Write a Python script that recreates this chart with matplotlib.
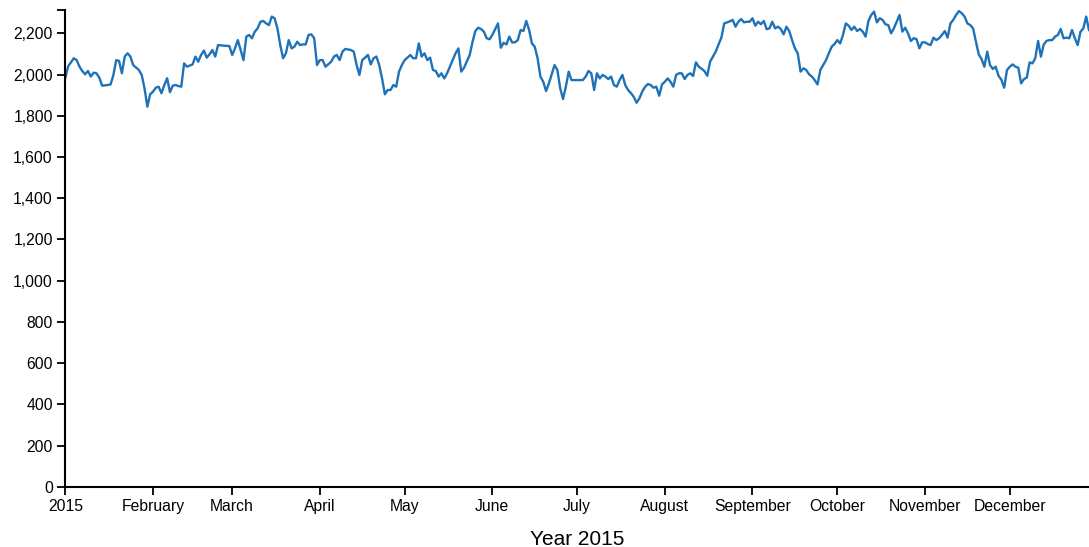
import matplotlib.pyplot as plt
import matplotlib.ticker as mticker
import pandas as pd

# day of year (0 = 1 Jan 2015) and value
days = [0, 1, 3, 4, 5, 6, 7, 8, 9, 10, 11, 12, 13, 15, 16, 17, 18, 19, 20,
        21, 22, 23, 24, 26, 27, 28, 29, 30, 31, 32, 33, 34, 35, 36, 37, 38,
        39, 40, 41, 42, 43, 45, 46, 47, 48, 49, 50, 51, 52, 53, 54, 56, 58,
        59, 60, 61, 62, 63, 64, 65, 66, 67, 68, 69, 70, 71, 72, 73, 74, 75,
        76, 77, 78, 79, 80, 81, 82, 83, 84, 85, 86, 87, 88, 89, 90, 91, 92,
        94, 95, 96, 97, 98, 99, 101, 102, 103, 104, 105, 106, 107, 108, 109,
        110, 111, 112, 113, 114, 115, 116, 117, 118, 119, 120, 121, 122, 123,
        124, 125, 126, 127, 128, 129, 130, 131, 132, 133, 134, 135, 136, 137,
        138, 139, 140, 141, 143, 144, 145, 146, 147, 148, 149, 150, 151, 153,
        154, 155, 156, 157, 158, 159, 160, 161, 162, 163, 164, 165, 166, 167,
        168, 169, 170, 171, 173, 174, 175, 176, 177, 178, 179, 180, 181, 182,
        183, 184, 185, 186, 187, 188, 189, 190, 191, 192, 193, 194, 195, 196,
        197, 198, 199, 200, 201, 202, 203, 204, 205, 206, 207, 208, 209, 210,
        211, 212, 213, 214, 215, 216, 217, 218, 219, 220, 221, 222, 223, 224,
        225, 226, 227, 228, 229, 230, 231, 232, 233, 234, 235, 236, 237, 238,
        239, 240, 241, 242, 243, 244, 245, 246, 247, 248, 249, 250, 251, 252,
        253, 254, 255, 256, 257, 258, 259, 260, 261, 262, 263, 264, 265, 266,
        267, 268, 269, 270, 271, 272, 273, 274, 275, 276, 277, 278, 279, 280,
        281, 282, 283, 284, 285, 286, 287, 288, 289, 290, 291, 292, 293, 294,
        295, 296, 297, 298, 299, 300, 301, 302, 303, 304, 305, 306, 307, 308,
        309, 310, 311, 312, 313, 314, 315, 316, 317, 318, 319, 320, 321, 322,
        323, 324, 325, 326, 327, 328, 329, 330, 331, 332, 333, 334, 335, 336,
        337, 338, 339, 340, 341, 342, 343, 344, 345, 346, 347, 348, 349, 350,
        351, 352, 353, 354, 355, 356, 357, 358, 359, 360, 361, 362]
values = [1983, 2040, 2079, 2070, 2038, 2017, 2001, 2017, 1990, 2009, 2006,
          1985, 1946, 1949, 1952, 1998, 2070, 2066, 2006, 2087, 2103, 2087,
          2046, 2022, 1998, 1933, 1844, 1904, 1917, 1936, 1941, 1909, 1949,
          1982, 1914, 1946, 1949, 1944, 1941, 2054, 2038, 2049, 2087, 2062,
          2095, 2116, 2082, 2098, 2119, 2087, 2143, 2140, 2138, 2095, 2127,
          2167, 2119, 2070, 2184, 2192, 2176, 2208, 2224, 2256, 2260, 2248,
          2240, 2281, 2273, 2224, 2143, 2079, 2103, 2167, 2127, 2135, 2159,
          2143, 2146, 2146, 2192, 2195, 2176, 2046, 2070, 2070, 2038, 2062,
          2087, 2095, 2070, 2111, 2124, 2119, 2111, 2046, 1998, 2070, 2082,
          2095, 2049, 2079, 2087, 2046, 1981, 1904, 1925, 1925, 1949, 1941,
          2014, 2046, 2070, 2082, 2095, 2079, 2079, 2151, 2087, 2103, 2070,
          2082, 2022, 2017, 1990, 2006, 1981, 2006, 2038, 2070, 2103, 2127,
          2014, 2033, 2095, 2159, 2211, 2227, 2221, 2208, 2176, 2171, 2192,
          2248, 2130, 2154, 2146, 2184, 2156, 2156, 2167, 2216, 2211, 2260,
          2216, 2151, 2135, 2079, 1990, 1965, 1920, 1957, 2046, 2022, 1933,
          1881, 1941, 2014, 1973, 1973, 1973, 1973, 1973, 1990, 2017, 2006,
          1925, 2006, 1981, 1998, 1990, 1978, 1990, 1949, 1941, 1973, 1998,
          1949, 1925, 1910, 1892, 1863, 1884, 1917, 1940, 1954, 1949, 1936,
          1941, 1897, 1952, 1965, 1981, 1965, 1941, 1998, 2006, 2006, 1978,
          1998, 2006, 1993, 2059, 2038, 2028, 2017, 1994, 2062, 2087, 2111,
          2146, 2179, 2248, 2253, 2258, 2265, 2232, 2256, 2269, 2253, 2256,
          2256, 2273, 2237, 2256, 2244, 2260, 2220, 2224, 2256, 2224, 2232,
          2221, 2195, 2232, 2211, 2167, 2127, 2103, 2014, 2030, 2022, 2001,
          1990, 1973, 1952, 2022, 2046, 2070, 2103, 2135, 2148, 2167, 2151,
          2192, 2248, 2237, 2216, 2232, 2211, 2221, 2208, 2184, 2260, 2289,
          2305, 2253, 2273, 2265, 2244, 2240, 2200, 2224, 2256, 2289, 2208,
          2227, 2200, 2163, 2176, 2172, 2127, 2156, 2156, 2148, 2143, 2179,
          2167, 2176, 2192, 2211, 2179, 2248, 2265, 2289, 2308, 2297, 2281,
          2248, 2240, 2224, 2160, 2098, 2075, 2038, 2111, 2046, 2027, 2038,
          1994, 1975, 1936, 2022, 2038, 2049, 2038, 2033, 1957, 1978, 1985,
          2059, 2054, 2079, 2163, 2087, 2146, 2163, 2167, 2167, 2184, 2192,
          2221, 2176, 2179, 2176, 2216, 2176, 2143, 2208, 2224, 2281, 2216]

month_labels = ["2015", "February", "March", "April", "May", "June", "July",
                "August", "September", "October", "November", "December"]
y_ticks = list(range(0, 2201, 200))

start = pd.Timestamp("2015-01-01")
dates = start + pd.to_timedelta(days, unit="D")
month_starts = pd.date_range("2015-01-01", periods=12, freq="MS")

plt.rcParams["font.family"] = ["Liberation Sans", "DejaVu Sans"]

fig = plt.figure(figsize=(10.89, 5.47), dpi=100)
ax = fig.add_axes([0.06, 0.1102, 0.94, 0.8715])

ax.plot(dates, values, color="#1f72b8", lw=1.7)

ax.set_xlim(start, start + pd.Timedelta(days=362))
ax.set_ylim(0, 2313)

ax.set_xticks(month_starts)
ax.set_xticklabels(month_labels)
ax.set_yticks(y_ticks)
ax.yaxis.set_major_formatter(mticker.StrMethodFormatter("{x:,.0f}"))
# outer tick at the top end of the y axis (d3 style)
ax.yaxis.set_minor_locator(mticker.FixedLocator([2313]))

for s in ["top", "right"]:
    ax.spines[s].set_visible(False)
for s in ["left", "bottom"]:
    ax.spines[s].set_linewidth(1.5)

ax.tick_params(axis="both", which="both", length=6, width=1.3,
               labelsize=11.3, pad=3, colors="black")

ax.set_xlabel("Year 2015", fontsize=15)
ax.xaxis.set_label_coords(0.5, -0.09)

fig.savefig("out.png", dpi=100)
